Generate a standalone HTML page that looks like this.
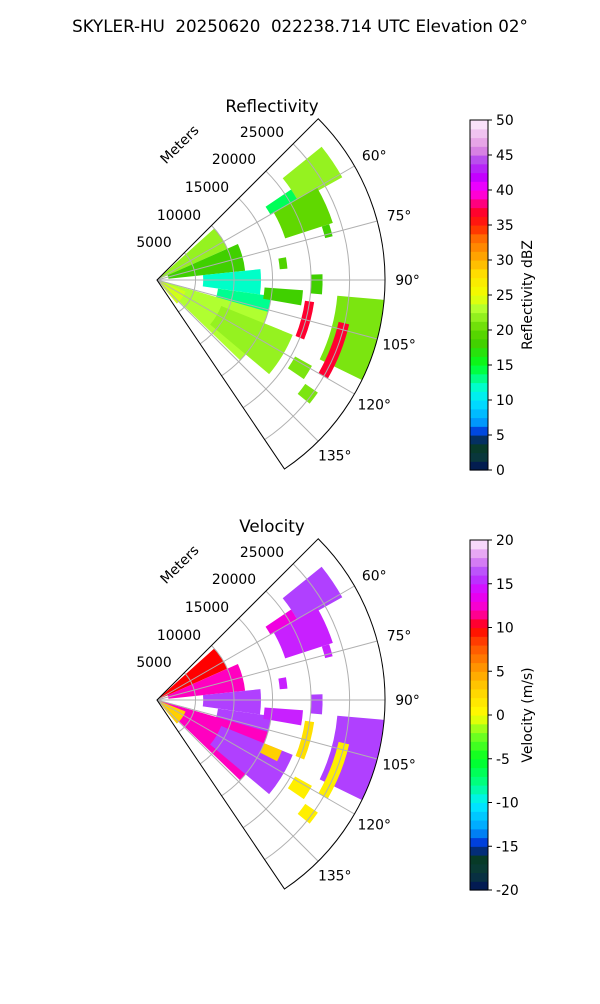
<!DOCTYPE html>
<html><head><meta charset="utf-8">
<style>
body{margin:0;background:#fff;font-family:"DejaVu Sans","Liberation Sans",sans-serif;}
svg text{font-family:"DejaVu Sans","Liberation Sans",sans-serif;white-space:pre;}
</style></head>
<body>
<svg id="fig" width="600" height="1000" viewBox="0 0 600 1000" xmlns="http://www.w3.org/2000/svg">
<rect width="600" height="1000" fill="#fff"/>
<text x="300" y="32" text-anchor="middle" font-size="16.7" xml:space="preserve">SKYLER-HU  20250620  022238.714 UTC Elevation 02°</text>
</svg>
<script>
// ---- data ----
const azTicks = [60, 75, 90, 105, 120, 135];
const rangeTicks = [5000, 10000, 15000, 20000, 25000];
const reflTicks = [0, 5, 10, 15, 20, 25, 30, 35, 40, 45, 50];
const velTicks = [-20, -15, -10, -5, 0, 5, 10, 15, 20];
// echo regions: azimuth start/end (deg), range start/end (m)
const echoAzStart = [48, 66, 84, 98, 106, 112, 112, 51, 60, 95, 98, 103, 94, 80, 88, 119, 112, 72, 125, 56];
const echoAzEnd   = [66, 84, 98, 108, 134, 130, 140, 61, 72, 116, 112, 120, 100, 85, 95, 124, 117, 76, 129, 60];
const echoRStart  = [0, 1500, 6000, 8000, 0, 9000, 0, 21000, 17500, 23500, 19400, 24200, 14000, 16000, 20000, 20500, 15000, 22500, 23500, 17000];
const echoREnd    = [10000, 11500, 13500, 15000, 15000, 19000, 4000, 27500, 24000, 29600, 20600, 25600, 19000, 17000, 21500, 23000, 17500, 23500, 25500, 21000];
const echoRefl    = [22, 18, 12, 13, 23, 22, 24, 22, 20, 21, 37, 37, 18, 19, 18, 21, 22, 18, 21, 14];
const echoVel     = [10, 12, 16, 16, 12, 16, 3, 16, 15, 16, 2, 1, 15, 15, 16, 1, 3, 15, 1, 13];
// colormap stops
const reflStopVals = [0, 2, 4, 5, 7, 10, 12, 15, 18, 20, 23, 25, 28, 30, 33, 35, 37, 40, 42, 44, 46, 50];
const reflStopCols = ['#00105a','#0a3a3a','#063a20','#0020d0','#00a0ff','#00e8ff','#00ffc8','#00ff20','#40d000','#60d800','#b0ff30','#f0ff00','#ffe000','#ffb000','#ff7000','#ff2000','#ff0030','#ff00ff','#c000ff','#b040f0','#e090e0','#fff0ff'];
const velStopVals = [-20, -18, -16, -15, -13, -10, -8, -5, -2, 0, 3, 5, 8, 10, 12, 14, 16, 18, 20];
const velStopCols = ['#00105a','#0a3a3a','#063a20','#0020d0','#00a0ff','#00f0ff','#00ff90','#00ff20','#80ff20','#ffff00','#ffd000','#ffa000','#ff5000','#ff0000','#ff00c0','#e000ff','#b040ff','#e090f0','#fff0ff'];

const NS = 'http://www.w3.org/2000/svg';
const svg = document.getElementById('fig');
const R = 228, RMAX = 29600, AZ0 = 45, AZ1 = 146;
const FS = 13.9;
function mk(tag, attrs, parent) {
  const e = document.createElementNS(NS, tag);
  for (const k in attrs) e.setAttribute(k, attrs[k]);
  (parent || svg).appendChild(e);
  return e;
}
function hex(c){return [parseInt(c.substr(1,2),16),parseInt(c.substr(3,2),16),parseInt(c.substr(5,2),16)];}
function cmap(v, vals, cols) {
  if (v <= vals[0]) return cols[0];
  for (let i = 1; i < vals.length; i++) {
    if (v <= vals[i]) {
      const t = (v - vals[i-1]) / (vals[i] - vals[i-1]);
      const a = hex(cols[i-1]), b = hex(cols[i]);
      return 'rgb(' + a.map((x, j) => Math.round(x + (b[j]-x)*t)).join(',') + ')';
    }
  }
  return cols[cols.length-1];
}
function pt(cx, cy, az, r) {
  const a = az * Math.PI / 180, rp = r / RMAX * R;
  return [cx + rp * Math.sin(a), cy - rp * Math.cos(a)];
}
function sector(cx, cy, a0, a1, r0, r1) {
  const p1 = pt(cx, cy, a0, r1), p2 = pt(cx, cy, a1, r1);
  const q1 = pt(cx, cy, a1, r0), q2 = pt(cx, cy, a0, r0);
  const R1 = r1 / RMAX * R, R0 = r0 / RMAX * R;
  let d = 'M' + q2[0] + ' ' + q2[1] + 'L' + p1[0] + ' ' + p1[1] + 'A' + R1 + ' ' + R1 + ' 0 0 1 ' + p2[0] + ' ' + p2[1] + 'L' + q1[0] + ' ' + q1[1];
  if (R0 > 0) d += 'A' + R0 + ' ' + R0 + ' 0 0 0 ' + q2[0] + ' ' + q2[1];
  return d + 'Z';
}
function arc(cx, cy, a0, a1, r) {
  const p1 = pt(cx, cy, a0, r), p2 = pt(cx, cy, a1, r), Rp = r / RMAX * R;
  return 'M' + p1[0] + ' ' + p1[1] + 'A' + Rp + ' ' + Rp + ' 0 0 1 ' + p2[0] + ' ' + p2[1];
}

function panel(cy, title, values, vals, cols, ticks, cbLabel, nm) {
  const cx = 157;
  const g = mk('g', {});
  
  
  const t = mk('text', {x: 272, y: cy - 168, 'text-anchor': 'middle', 'font-size': 16.7}, g);
  t.textContent = title;
  
  
  for (let i = 0; i < echoAzStart.length; i++) {
    const p = mk('path', {d: sector(cx, cy, echoAzStart[i], echoAzEnd[i], echoRStart[i], echoREnd[i]), fill: cmap(values[i], vals, cols)}, g);
    
    
  }
  rangeTicks.forEach((rv, i) => {
    const p = mk('path', {d: arc(cx, cy, AZ0, AZ1, rv), fill: 'none', stroke: '#b0b0b0', 'stroke-width': 1}, g);
    
    
    const lbl = mk('text', {x: [154, 179, 207, 234, 262][i], y: cy - [38, 65, 93, 121, 148][i] + 5, 'text-anchor': 'middle', 'font-size': FS}, g);
    lbl.textContent = rv;
    
    
  });
  azTicks.forEach(az => {
    const e = pt(cx, cy, az, RMAX);
    const l = mk('line', {x1: cx, y1: cy, x2: e[0], y2: e[1], stroke: '#b0b0b0', 'stroke-width': 1}, g);
    
    
    const lp = pt(cx, cy, az, RMAX * 1.09);
    const tx = mk('text', {x: lp[0] + 2, y: lp[1] + 5, 'text-anchor': 'middle', 'font-size': FS}, g);
    tx.textContent = az + '°';
    
    
  });
  const o = mk('path', {d: sector(cx, cy, AZ0, AZ1, 0, RMAX), fill: 'none', stroke: '#000', 'stroke-width': 1}, g);
  
  
  const m = mk('text', {x: 180, y: cy - 131, 'text-anchor': 'middle', 'font-size': FS, transform: 'rotate(-45 180 ' + (cy - 135) + ')'}, g);
  m.textContent = 'Meters';
  
  
  const cbX = 470, cbTop = cy - 160, cbH = 350, cbW = 18;
  const lo = ticks[0], hi = ticks[ticks.length - 1];
  const n = 40;
  for (let k = 0; k < n; k++) {
    const v = lo + (k + 0.5) * (hi - lo) / n;
    const r = mk('rect', {x: cbX, y: cbTop + cbH - (k + 1) * cbH / n, width: cbW, height: cbH / n + 0.6, fill: cmap(v, vals, cols)}, g);
    
    
  }
  const fr = mk('rect', {x: cbX, y: cbTop, width: cbW, height: cbH, fill: 'none', stroke: '#000', 'stroke-width': 1}, g);
  
  
  ticks.forEach(tv => {
    const y = cbTop + cbH - (tv - lo) / (hi - lo) * cbH;
    mk('line', {x1: cbX + cbW, y1: y, x2: cbX + cbW + 4, y2: y, stroke: '#000'}, g);
    const tt = mk('text', {x: cbX + cbW + 8, y: y + 5, 'font-size': FS}, g);
    tt.textContent = tv;
    
    
  });
  const cl = mk('text', {x: 0, y: 0, 'text-anchor': 'middle', 'font-size': FS, transform: 'translate(532 ' + (cbTop + cbH / 2) + ') rotate(-90)'}, g);
  cl.textContent = cbLabel;
  
  
}
panel(280, 'Reflectivity', echoRefl, reflStopVals, reflStopCols, reflTicks, 'Reflectivity dBZ', 'reflectivity');
panel(700, 'Velocity', echoVel, velStopVals, velStopCols, velTicks, 'Velocity (m/s)', 'velocity');
</script>
</body></html>
